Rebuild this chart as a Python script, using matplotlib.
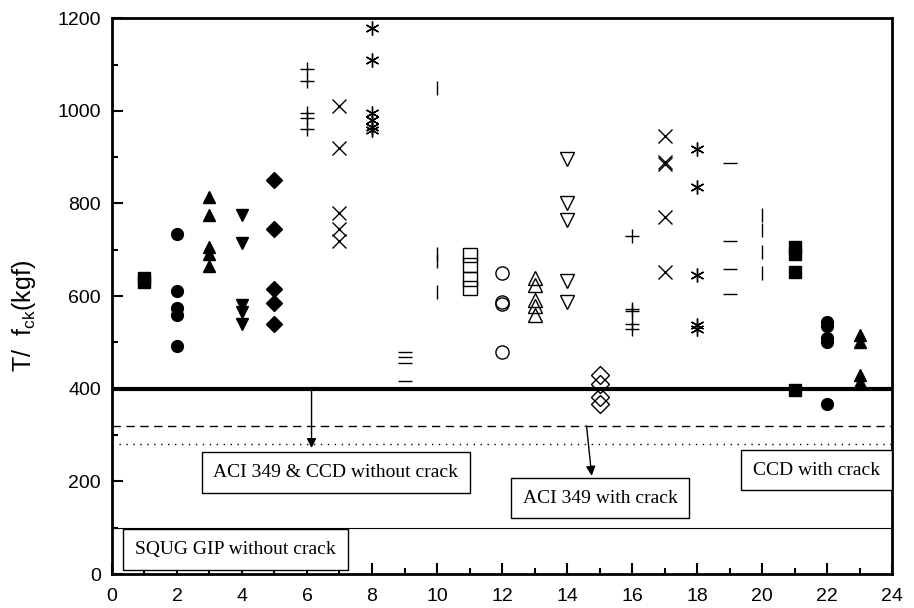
import matplotlib
matplotlib.use("Agg")
import matplotlib.pyplot as plt
from matplotlib.ticker import MultipleLocator

plt.rcParams['mathtext.default'] = 'regular'
plt.rcParams['font.family'] = ['Liberation Sans', 'DejaVu Sans']

# ---- data (x position -> list of values) ----
y01 = [640, 630]
y02 = [735, 610, 575, 560, 492]
y03 = [815, 775, 705, 690, 665]
y04 = [775, 715, 580, 565, 540]
y05 = [850, 745, 615, 585, 540]
y06 = [1090, 1065, 995, 985, 960]
y07 = [1010, 920, 780, 745, 720]
y08 = [1180, 1110, 995, 980, 965, 958]
y09 = [480, 468, 455, 417]
y10 = [1050, 690, 675, 608]
y11 = [688, 667, 638, 617]
y12 = [651, 588, 583, 480]
y13 = [640, 625, 592, 578, 560]
y14 = [895, 800, 765, 632, 588]
y15 = [430, 410, 383, 368]
y16 = [730, 572, 567, 540, 530]
y17 = [945, 890, 885, 771, 652]
y18 = [918, 835, 645, 537, 530]
y19 = [888, 720, 658, 604]
y20 = [776, 742, 695, 651]
y21 = [705, 690, 652, 398]
y22 = [545, 535, 510, 500, 367]
y23 = [515, 500, 430, 415]

series = [y01, y02, y03, y04, y05, y06, y07, y08, y09, y10, y11, y12,
          y13, y14, y15, y16, y17, y18, y19, y20, y21, y22, y23]
x_positions = list(range(1, 24))

limit_lines = [400, 320, 280, 100]
xticks = list(range(0, 25, 2))
yticks = list(range(0, 1201, 200))

asterisk = (6, 2, 0)
styles = [
    ('s', True), ('o', True), ('^', True), ('v', True), ('D', True),
    ('+', None), ('x', None), (asterisk, None), ('_', None), ('|', None),
    ('s', False), ('o', False), ('^', False), ('v', False), ('D', False),
    ('+', None), ('x', None), (asterisk, None), ('_', None), ('|', None),
    ('s', True), ('o', True), ('^', True),
]

fig = plt.figure(figsize=(9.14, 6.08), dpi=100)
ax = fig.add_axes([0.1225, 0.0559, 0.8535, 0.9141])

for xp, vals, (mk, filled) in zip(x_positions, series, styles):
    xs = [xp] * len(vals)
    if filled is True:
        ax.plot(xs, vals, linestyle='none', marker=mk, ms=8.5,
                mfc='black', mec='black')
    elif filled is False:
        ax.plot(xs, vals, linestyle='none', marker=mk, ms=9.5,
                mfc='none', mec='black', mew=1.0)
    else:
        ax.plot(xs, vals, linestyle='none', marker=mk, ms=10,
                color='black', mew=1.0)

ax.axhline(limit_lines[0], color='black', lw=3)
ax.axhline(limit_lines[1], color='black', lw=1, ls=(0, (6, 4)))
ax.axhline(limit_lines[2], color='black', lw=1, ls=(0, (1, 4)))
ax.axhline(limit_lines[3], color='black', lw=0.8)

ax.set_xlim(0, 24)
ax.set_ylim(0, 1200)
ax.set_xticks(xticks)
ax.set_yticks(yticks)
ax.xaxis.set_minor_locator(MultipleLocator(1))
ax.yaxis.set_minor_locator(MultipleLocator(100))
ax.tick_params(which='both', direction='in', labelsize=14, width=1.5)
ax.tick_params(which='major', length=8)
ax.tick_params(which='minor', length=4.5)
ax.tick_params(axis='x', pad=10)
ax.tick_params(axis='y', pad=8)
for s in ax.spines.values():
    s.set_linewidth(2)

fig.text(24 / 914, 1 - 316 / 608, 'T/  f$_{ck}$(kgf)', fontsize=18,
         rotation=90, ha='center', va='center')

box = dict(boxstyle='square,pad=0.6', fc='white', ec='black', lw=1)
tfont = dict(family='Liberation Serif', fontsize=14)
arrow = dict(arrowstyle='-|>', color='black', lw=1, mutation_scale=14,
             shrinkA=0, shrinkB=0)

ax.annotate('', xy=(6.14, 272), xytext=(6.14, 400), arrowprops=arrow)
ax.annotate('', xy=(14.76, 212), xytext=(14.6, 320), arrowprops=arrow)

ax.text(6.89, 219, 'ACI 349 & CCD without crack', ha='center', va='center',
        bbox=box, **tfont)
ax.text(15.02, 164, 'ACI 349 with crack', ha='center', va='center',
        bbox=box, **tfont)
ax.text(21.68, 224, 'CCD with crack', ha='center', va='center',
        bbox=box, **tfont)
ax.text(3.8, 53, 'SQUG GIP without crack', ha='center', va='center',
        bbox=box, **tfont)

fig.savefig('out.png', dpi=100)
